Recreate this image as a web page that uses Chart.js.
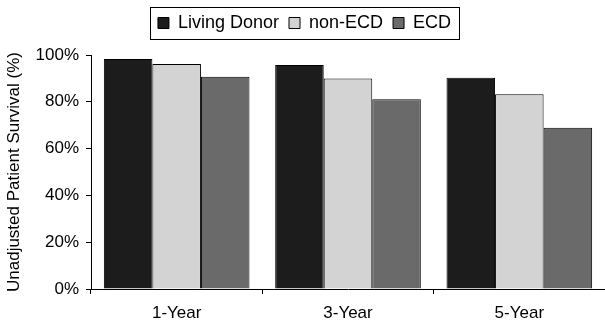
<!DOCTYPE html>
<html>
<head>
<meta charset="utf-8">
<script src="https://cdn.jsdelivr.net/npm/chart.js@4/dist/chart.umd.min.js"></script>
<style>
  html, body { margin: 0; padding: 0; background: #fff; }
  #wrap { width: 605px; height: 327px; position: relative; }
</style>
</head>
<body>
<div id="wrap"><canvas id="survivalChart"></canvas></div>
<script>
const periods = ["1-Year", "3-Year", "5-Year"];
const livingDonor = [98.3, 95.7, 90.3];
const nonEcd = [96.2, 90.0, 83.2];
const ecd = [90.7, 81.1, 68.9];
const yTicks = [0, 20, 40, 60, 80, 100];

Chart.defaults.font.family = "'Liberation Sans', Arial, sans-serif";
Chart.defaults.font.size = 17;
Chart.defaults.color = "#000";

// border round the legend, like the original figure
const legendBox = {
    id: "legendBox",
    beforeInit(chart) {
        // leave a gap between the legend and the plot
        const fit = chart.legend.fit;
        chart.legend.fit = function () {
            fit.call(this);
            this.height = 51;
        };
    },
    afterDraw(chart) {
        const boxes = chart.legend && chart.legend.legendHitBoxes;
        if (!boxes || !boxes.length) return;
        const first = boxes[0];
        const last = boxes[boxes.length - 1];
        const ctx = chart.ctx;
        ctx.save();
        ctx.strokeStyle = "#000";
        ctx.lineWidth = 1;
        const left = Math.round(first.left - 8) + 0.5;
        const right = Math.round(last.left + last.width + 8) + 0.5;
        const top = Math.round(first.top - 7) + 0.5;
        const bottom = Math.round(first.top + first.height + 7) + 0.5;
        ctx.strokeRect(left, top, right - left, bottom - top);
        ctx.restore();
    }
};

const ctx = document.getElementById("survivalChart").getContext("2d");

new Chart(ctx, {
    type: "bar",
    data: {
        labels: periods,
        datasets: [
            {
                label: "Living Donor",
                data: livingDonor,
                backgroundColor: "#1c1c1c",
                borderColor: "#000",
                borderWidth: 1
            },
            {
                label: "non-ECD",
                data: nonEcd,
                backgroundColor: "#d3d3d3",
                borderColor: "#000",
                borderWidth: 1
            },
            {
                label: "ECD",
                data: ecd,
                backgroundColor: "#6a6a6a",
                borderColor: "#000",
                borderWidth: 1
            }
        ]
    },
    options: {
        responsive: true,
        maintainAspectRatio: false,
        animation: false,
        layout: {
            padding: { top: 4, left: 4, right: 0, bottom: 4 }
        },
        datasets: {
            bar: {
                categoryPercentage: 0.85,
                barPercentage: 1.0
            }
        },
        plugins: {
            tooltip: { enabled: false },
            legend: {
                position: "top",
                labels: {
                    boxWidth: 11,
                    boxHeight: 11,
                    padding: 10,
                    color: "#000",
                    font: { size: 18 }
                }
            }
        },
        scales: {
            x: {
                afterFit(scale) {
                    scale.height = 34;
                },
                grid: {
                    offset: true,
                    drawOnChartArea: false,
                    tickLength: 5,
                    color: "#000"
                },
                border: { color: "#000", width: 1 },
                ticks: { padding: 9, color: "#000" }
            },
            y: {
                min: yTicks[0],
                max: yTicks[yTicks.length - 1],
                afterBuildTicks(scale) {
                    scale.ticks = yTicks.map(v => ({ value: v }));
                },
                afterFit(scale) {
                    scale.width = 87;
                },
                grid: {
                    drawOnChartArea: false,
                    tickLength: 5,
                    color: "#000"
                },
                border: { color: "#000", width: 1 },
                ticks: {
                    padding: 7,
                    color: "#000",
                    callback: v => v + "%"
                },
                title: {
                    display: true,
                    text: "Unadjusted Patient Survival (%)",
                    color: "#000",
                    font: { size: 17 },
                    padding: { top: 0, bottom: 8 }
                }
            }
        }
    },
    plugins: [legendBox]
});
</script>
</body>
</html>
